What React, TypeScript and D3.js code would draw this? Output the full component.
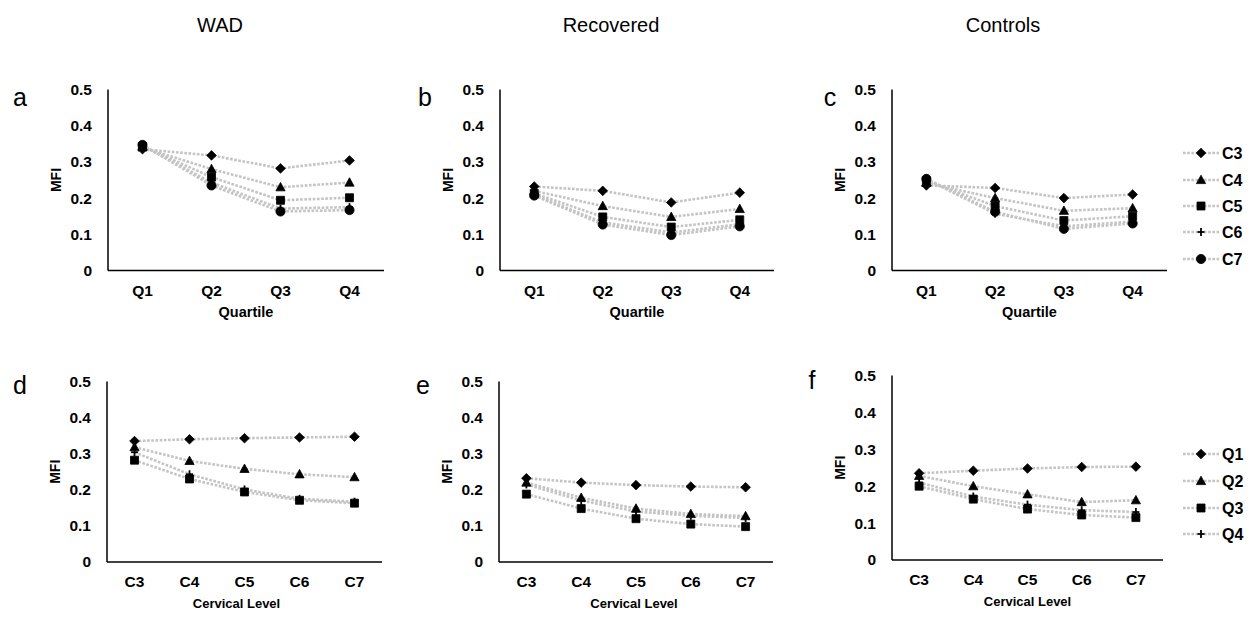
import * as d3 from "d3";

const quartiles = ["Q1", "Q2", "Q3", "Q4"];
const levels = ["C3", "C4", "C5", "C6", "C7"];
const yTicks = [0, 0.1, 0.2, 0.3, 0.4, 0.5];

// MFI per quartile (rows) across cervical levels C3..C7 (columns)
const wadQ1 = [0.335, 0.34, 0.343, 0.345, 0.347];
const wadQ2 = [0.318, 0.28, 0.258, 0.243, 0.235];
const wadQ3 = [0.282, 0.23, 0.194, 0.171, 0.163];
const wadQ4 = [0.304, 0.243, 0.201, 0.175, 0.167];

const recQ1 = [0.232, 0.22, 0.213, 0.209, 0.207];
const recQ2 = [0.22, 0.178, 0.148, 0.133, 0.127];
const recQ3 = [0.188, 0.148, 0.12, 0.105, 0.098];
const recQ4 = [0.215, 0.17, 0.14, 0.128, 0.122];

const conQ1 = [0.235, 0.242, 0.248, 0.252, 0.253];
const conQ2 = [0.228, 0.2, 0.178, 0.157, 0.162];
const conQ3 = [0.2, 0.165, 0.138, 0.122, 0.115];
const conQ4 = [0.21, 0.172, 0.15, 0.135, 0.13];

const groupTitles = ["WAD", "Recovered", "Controls"];

const FONT = "'Liberation Sans', Arial, sans-serif";
const LINE = "#c4c4c4";

const markerPath = (shape: string) => {
  const p = d3.path();
  if (shape === "diamond") {
    p.moveTo(0, -4.8); p.lineTo(4.8, 0); p.lineTo(0, 4.8); p.lineTo(-4.8, 0); p.closePath();
  } else if (shape === "triangle") {
    p.moveTo(0, -4.8); p.lineTo(4.6, 3.6); p.lineTo(-4.6, 3.6); p.closePath();
  } else if (shape === "square") {
    p.rect(-4, -4, 8, 8);
  } else if (shape === "circle") {
    p.arc(0, 0, 4.6, 0, Math.PI * 2);
  }
  return p.toString();
};

const shapes = ["diamond", "triangle", "square", "plus", "circle"];

const Marker = ({ x, y, shape }: { x: number; y: number; shape: string }) => {
  if (shape === "plus") {
    return (
      <g transform={`translate(${x},${y})`} stroke="#000" strokeWidth={1.8}>
        <line x1={-3.5} x2={3.5} y1={0} y2={0} />
        <line x1={0} x2={0} y1={-4} y2={4} />
      </g>
    );
  }
  return <path transform={`translate(${x},${y})`} d={markerPath(shape)} fill="#000" stroke="#000" strokeWidth={0.8} />;
};

type PanelProps = {
  letter: string;
  x0: number;
  x1: number;
  yTop: number;
  yBot: number;
  cats: string[];
  series: number[][];
  xTitle: string;
  titleSize: number;
  titleShift: number;
  letterY: number;
  letterX: number;
};

const Panel = ({ letter, x0, x1, yTop, yBot, cats, series, xTitle, titleSize, titleShift, letterY, letterX }: PanelProps) => {
  const x = d3.scalePoint<string>().domain(cats).range([x0, x1]).padding(0.5);
  const y = d3.scaleLinear().domain([0, 0.5]).range([yBot, yTop]);
  const line = d3.line<number>().x((_, i) => x(cats[i]) as number).y((d) => y(d));
  return (
    <g>
      <text x={letterX} y={letterY} fontSize={25} fontFamily={FONT} textAnchor="middle">{letter}</text>
      {yTicks.map((t) => (
        <text key={t} x={x0 - 16} y={y(t)} dy="0.35em" textAnchor="end" fontSize={15.5} fontWeight="bold" fontFamily={FONT}>
          {t === 0 ? "0" : t.toFixed(1)}
        </text>
      ))}
      {cats.map((c) => (
        <text key={c} x={x(c)} y={yBot + 20} dy="0.35em" textAnchor="middle" fontSize={15.5} fontWeight="bold" fontFamily={FONT}>
          {c}
        </text>
      ))}
      <text x={(x0 + x1) / 2 + titleShift} y={yBot + 41} dy="0.35em" textAnchor="middle" fontSize={titleSize} fontWeight="bold" fontFamily={FONT}>
        {xTitle}
      </text>
      <text transform={`translate(${x0 - 52},${(yTop + yBot) / 2}) rotate(-90)`} dy="0.35em" textAnchor="middle" fontSize={14} fontWeight="bold" fontFamily={FONT}>
        MFI
      </text>
      {series.map((s, i) => (
        <path key={i} d={line(s) as string} fill="none" stroke={LINE} strokeWidth={2.6} strokeDasharray="2.6,1.6" />
      ))}
      {series.map((s, i) =>
        s.map((v, j) => <Marker key={`${i}-${j}`} x={x(cats[j]) as number} y={y(v)} shape={shapes[i]} />)
      )}
      <line x1={x0} x2={x0} y1={yTop} y2={yBot} stroke="#000" strokeWidth={1.5} />
      <line x1={x0} x2={x1} y1={yBot} y2={yBot} stroke="#000" strokeWidth={1.5} />
    </g>
  );
};

const Legend = ({ names, ys }: { names: string[]; ys: number[] }) => (
  <g>
    {names.map((n, i) => (
      <g key={n}>
        <line x1={1183} x2={1219} y1={ys[i]} y2={ys[i]} stroke={LINE} strokeWidth={2.6} strokeDasharray="2.6,1.6" />
        <Marker x={1201} y={ys[i]} shape={shapes[i]} />
        <text x={1222} y={ys[i]} dy="0.35em" fontSize={16} fontWeight="bold" fontFamily={FONT}>{n}</text>
      </g>
    ))}
  </g>
);

export default function App() {
  const wad = [wadQ1, wadQ2, wadQ3, wadQ4];
  const rec = [recQ1, recQ2, recQ3, recQ4];
  const con = [conQ1, conQ2, conQ3, conQ4];
  const byLevel = (m: number[][]) => levels.map((_, i) => quartiles.map((_, j) => m[j][i]));

  return (
    <svg width={1260} height={618} style={{ position: "absolute", left: 0, top: 0, background: "#fff" }}>
      {groupTitles.map((t, i) => (
        <text key={t} x={[220, 611, 1003][i]} y={32} textAnchor="middle" fontSize={20} fontFamily={FONT}>{t}</text>
      ))}
      <Panel letter="a" letterX={20} letterY={106} x0={108} x1={384} yTop={89.5} yBot={270.5} cats={quartiles} series={byLevel(wad)} xTitle="Quartile" titleSize={14.5} titleShift={0} />
      <Panel letter="b" letterX={425} letterY={106} x0={500} x1={774} yTop={89.5} yBot={270.5} cats={quartiles} series={byLevel(rec)} xTitle="Quartile" titleSize={14.5} titleShift={0} />
      <Panel letter="c" letterX={830} letterY={106} x0={892} x1={1167} yTop={89.5} yBot={270.5} cats={quartiles} series={byLevel(con)} xTitle="Quartile" titleSize={14.5} titleShift={0} />
      <Panel letter="d" letterX={20} letterY={394} x0={107} x1={382} yTop={381.5} yBot={562} cats={levels} series={wad} xTitle="Cervical Level" titleSize={13} titleShift={-8} />
      <Panel letter="e" letterX={423} letterY={394} x0={499} x1={773} yTop={381.5} yBot={562} cats={levels} series={rec} xTitle="Cervical Level" titleSize={13} titleShift={-2} />
      <Panel letter="f" letterX={812} letterY={389} x0={892} x1={1163} yTop={375.5} yBot={560} cats={levels} series={con} xTitle="Cervical Level" titleSize={13} titleShift={0} />
      <Legend names={levels} ys={[153, 180, 206, 232, 259]} />
      <Legend names={quartiles} ys={[454, 481, 508, 534]} />
    </svg>
  );
}
